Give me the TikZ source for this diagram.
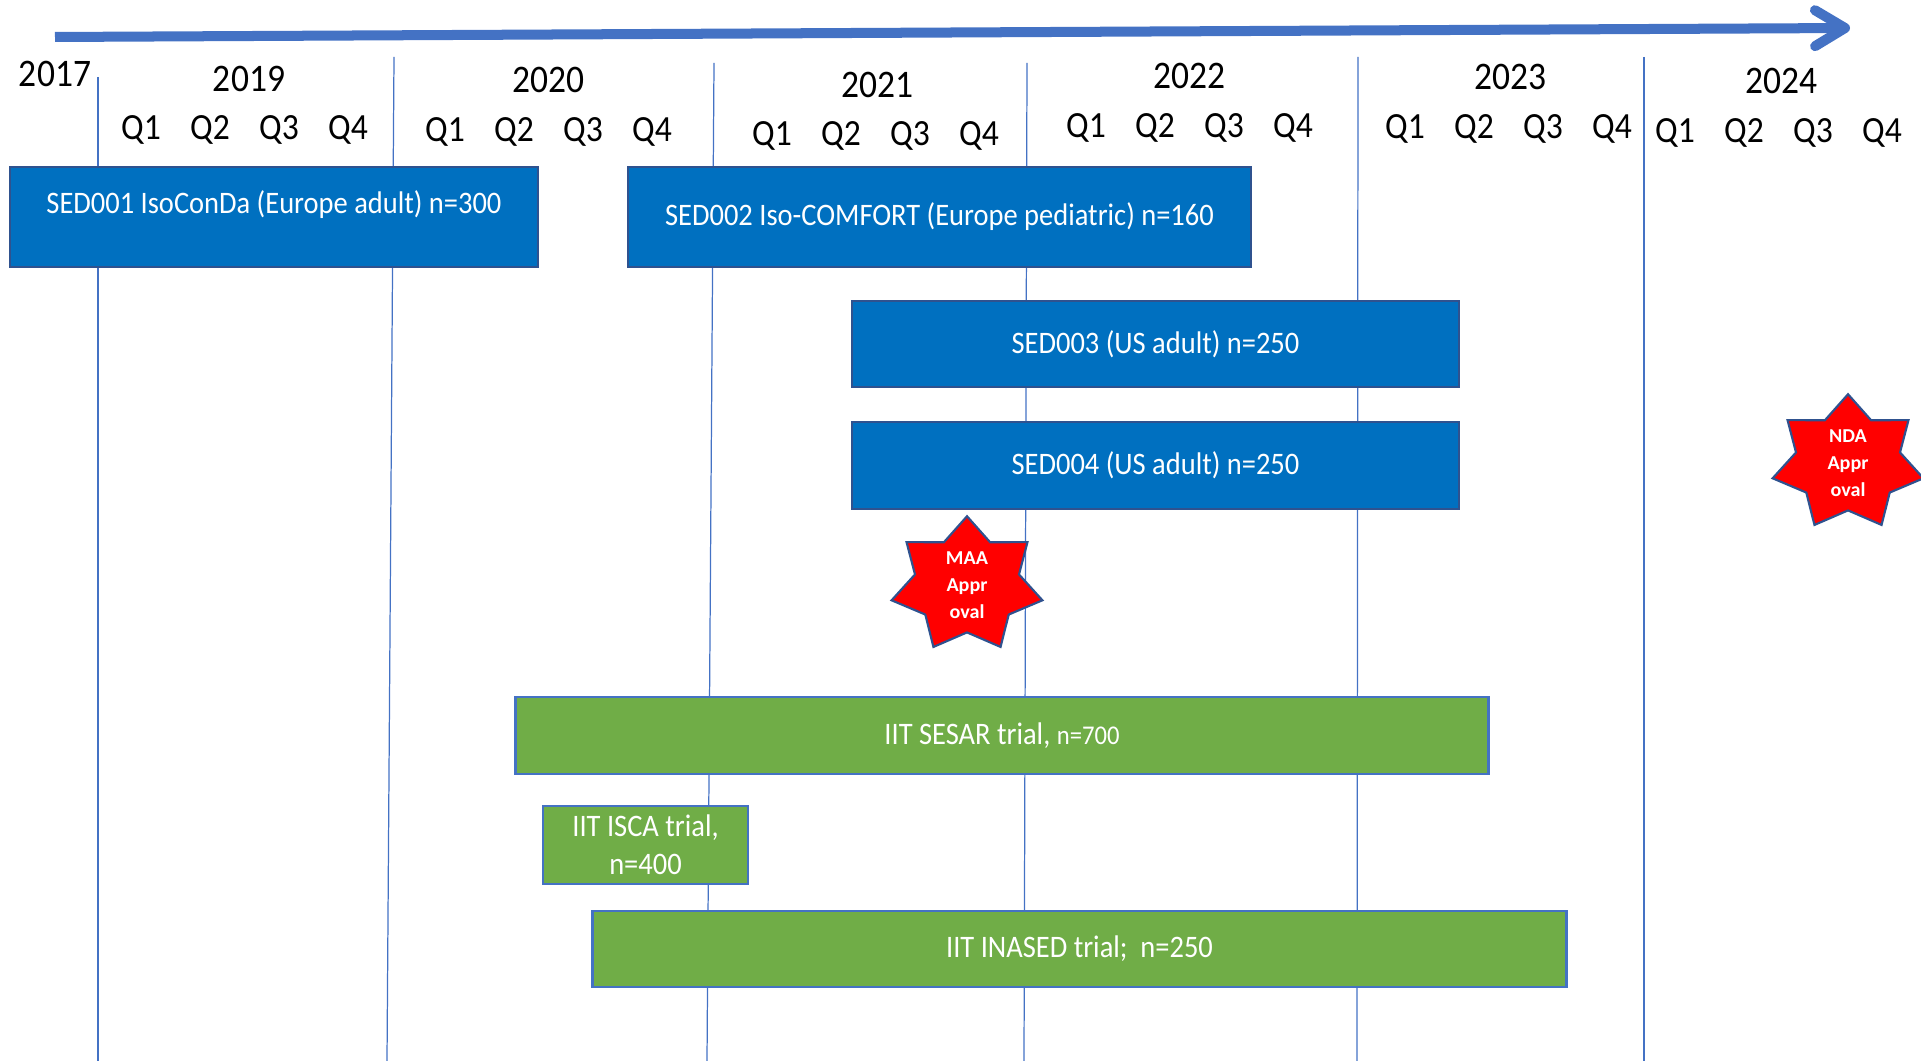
\documentclass[tikz,border=0pt]{standalone}
\usepackage{fontspec}
\setmainfont{Carlito}[FakeStretch=0.91]
\usetikzlibrary{shapes.geometric,arrows.meta}
\definecolor{gridblue}{HTML}{4472C4}
\definecolor{sedblue}{HTML}{0070C0}
\definecolor{sededge}{HTML}{2F528F}
\definecolor{iitgreen}{HTML}{70AD47}

\begin{document}
\begin{tikzpicture}[x=0.01cm, y=-0.01cm,
		gridline/.style={gridblue, line width=0.35pt},
		yearlabel/.style={anchor=base, font=\fontsize{11.1}{13}\selectfont},
		qlabel/.style={anchor=base, font=\fontsize{10.5}{12}\selectfont},
		sedbar/.style={draw=sededge, fill=sedblue, line width=0.5pt, text=white, inner sep=0pt,
			font=\fontsize{8.9}{10.9}\selectfont},
		iitbar/.style={draw=gridblue, fill=iitgreen, line width=0.7pt, text=white, inner sep=0pt,
			align=center, font=\fontsize{8.9}{10.9}\selectfont},
		approval/.style={star, star points=7, star point ratio=1.45, xscale=1.125, fill=red,
			draw=sededge, line width=0.6pt, inner sep=0pt, text=white, align=center,
			font=\bfseries\fontsize{5.6}{7.7}\selectfont}]
		\useasboundingbox (0,0) rectangle (1921,1061);
		% year separators
		\draw[gridline] (98,77) -- (98,1061);
		\draw[gridline] (394,57) -- (387,1061);
		\draw[gridline] (714,63) -- (707,1061);
		\draw[gridline] (1027,63) -- (1024,1061);
		\draw[gridline] (1358,57) -- (1357,1061);
		\draw[gridline] (1644,57) -- (1644,1061);
		% time axis
		\coordinate (tstart) at (55,37);
		\coordinate (tend) at (1850,28);
		\draw[gridblue, line width=0.1cm, -{Straight Barb[length=0.3cm, width=0.36cm, round]}] (tstart) -- (tend);
		% years and quarters
		\node[yearlabel] (y2017) at (55,87) {2017};
		\foreach \yr/\yx/\yb/\qx/\qb in {2019/249/92/141/140, 2020/548/93/445/142, 2021/877/98/772/146,
				2022/1189/89/1086/138, 2023/1510/90/1405/139, 2024/1781/94/1675/143} {
			\node[yearlabel] (y\yr) at (\yx,\yb) {\yr};
			\foreach \q in {1,...,4}
				\node[qlabel] (q\yr-\q) at ({\qx+(\q-1)*69},\qb) {Q\q};
		}
		% company sponsored trials
		\node[sedbar, minimum width=5.28cm, minimum height=1cm, text depth=8.4pt] (sed1) at (274,217)
			{SED001 IsoConDa (Europe adult) n=300};
		\node[sedbar, minimum width=6.23cm, minimum height=1cm] (sed2) at (939.5,217)
			{SED002 Iso-COMFORT (Europe pediatric) n=160};
		\node[sedbar, minimum width=6.07cm, minimum height=0.86cm] (sed3) at (1155.5,344)
			{SED003 (US adult) n=250};
		\node[sedbar, minimum width=6.07cm, minimum height=0.87cm] (sed4) at (1155.5,465.5)
			{SED004 (US adult) n=250};
		% approvals
		\node[approval, minimum size=1.25cm] (maa) at (967,585) {MAA\\Appr\\oval};
		\node[approval, minimum size=1.32cm] (nda) at (1848,463) {NDA\\Appr\\oval};
		% investigator initiated trials
		\node[iitbar, minimum width=9.72cm, minimum height=0.77cm] (sesar) at (1002,735.5)
			{IIT SESAR trial, {\fontsize{7.7}{9}\selectfont n=700}};
		\node[iitbar, minimum width=2.05cm, minimum height=0.78cm] (isca) at (645.5,845)
			{IIT ISCA trial,\\n=400};
		\node[iitbar, minimum width=9.73cm, minimum height=0.76cm] (inased) at (1079.5,949)
			{IIT INASED trial;\ \ n=250};
	\end{tikzpicture}
\end{document}
